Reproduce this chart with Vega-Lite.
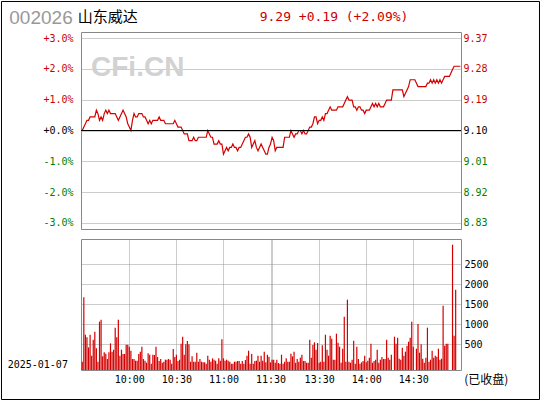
{
  "$schema": "https://vega.github.io/schema/vega-lite/v6.json",
  "padding": 0,
  "background": "white",
  "spacing": 10,
  "bounds": "flush",
  "config": {
    "view": {"stroke": "#888888", "strokeWidth": 1},
    "axis": {"labelFont": "DejaVu Sans Mono", "labelFontSize": 10, "gridColor": "#999999", "gridDash": [1, 1], "gridWidth": 1, "ticks": false, "tickSize": 0, "domain": false}
  },
  "resolve": {"scale": {"x": "independent", "y": "independent"}},
  "datasets": {
    "price": [
      {"t":0,"p":9.10},{"t":1,"p":9.11},{"t":2,"p":9.12},{"t":3,"p":9.13},{"t":4,"p":9.13},{"t":5,"p":9.14},{"t":6,"p":9.14},{"t":7,"p":9.14},{"t":8,"p":9.14},{"t":9,"p":9.16},
      {"t":10,"p":9.15},{"t":11,"p":9.13},{"t":12,"p":9.14},{"t":13,"p":9.13},{"t":14,"p":9.15},{"t":15,"p":9.16},{"t":16,"p":9.15},{"t":17,"p":9.16},{"t":18,"p":9.15},{"t":19,"p":9.15},
      {"t":20,"p":9.15},{"t":21,"p":9.15},{"t":22,"p":9.14},{"t":23,"p":9.13},{"t":24,"p":9.14},{"t":25,"p":9.15},{"t":26,"p":9.16},{"t":27,"p":9.15},{"t":28,"p":9.14},{"t":29,"p":9.12},
      {"t":30,"p":9.11},{"t":31,"p":9.10},{"t":32,"p":9.13},{"t":33,"p":9.15},{"t":34,"p":9.14},{"t":35,"p":9.14},{"t":36,"p":9.15},{"t":37,"p":9.15},{"t":38,"p":9.15},{"t":39,"p":9.14},
      {"t":40,"p":9.14},{"t":41,"p":9.13},{"t":42,"p":9.12},{"t":43,"p":9.13},{"t":44,"p":9.12},{"t":45,"p":9.13},{"t":46,"p":9.13},{"t":47,"p":9.13},{"t":48,"p":9.13},{"t":49,"p":9.14},
      {"t":50,"p":9.13},{"t":51,"p":9.13},{"t":52,"p":9.13},{"t":53,"p":9.12},{"t":54,"p":9.12},{"t":55,"p":9.12},{"t":56,"p":9.12},{"t":57,"p":9.12},{"t":58,"p":9.12},{"t":59,"p":9.13},
      {"t":60,"p":9.12},{"t":61,"p":9.11},{"t":62,"p":9.11},{"t":63,"p":9.11},{"t":64,"p":9.10},{"t":65,"p":9.09},{"t":66,"p":9.09},{"t":67,"p":9.09},{"t":68,"p":9.07},{"t":69,"p":9.07},
      {"t":70,"p":9.07},{"t":71,"p":9.08},{"t":72,"p":9.07},{"t":73,"p":9.07},{"t":74,"p":9.08},{"t":75,"p":9.08},{"t":76,"p":9.08},{"t":77,"p":9.08},{"t":78,"p":9.08},{"t":79,"p":9.08},
      {"t":80,"p":9.10},{"t":81,"p":9.09},{"t":82,"p":9.08},{"t":83,"p":9.08},{"t":84,"p":9.06},{"t":85,"p":9.06},{"t":86,"p":9.06},{"t":87,"p":9.07},{"t":88,"p":9.06},{"t":89,"p":9.06},
      {"t":90,"p":9.03},{"t":91,"p":9.04},{"t":92,"p":9.05},{"t":93,"p":9.04},{"t":94,"p":9.05},{"t":95,"p":9.05},{"t":96,"p":9.06},{"t":97,"p":9.05},{"t":98,"p":9.05},{"t":99,"p":9.04},
      {"t":100,"p":9.05},{"t":101,"p":9.05},{"t":102,"p":9.06},{"t":103,"p":9.07},{"t":104,"p":9.08},{"t":105,"p":9.08},{"t":106,"p":9.09},{"t":107,"p":9.08},{"t":108,"p":9.05},{"t":109,"p":9.06},
      {"t":110,"p":9.07},{"t":111,"p":9.05},{"t":112,"p":9.04},{"t":113,"p":9.05},{"t":114,"p":9.06},{"t":115,"p":9.05},{"t":116,"p":9.04},{"t":117,"p":9.03},{"t":118,"p":9.03},{"t":119,"p":9.05},
      {"t":120,"p":9.06},{"t":121,"p":9.08},{"t":122,"p":9.07},{"t":123,"p":9.04},{"t":124,"p":9.05},{"t":125,"p":9.05},{"t":126,"p":9.05},{"t":127,"p":9.05},{"t":128,"p":9.05},{"t":129,"p":9.08},
      {"t":130,"p":9.08},{"t":131,"p":9.08},{"t":132,"p":9.08},{"t":133,"p":9.10},{"t":134,"p":9.09},{"t":135,"p":9.08},{"t":136,"p":9.09},{"t":137,"p":9.09},{"t":138,"p":9.10},{"t":139,"p":9.10},
      {"t":140,"p":9.09},{"t":141,"p":9.10},{"t":142,"p":9.09},{"t":143,"p":9.09},{"t":144,"p":9.10},{"t":145,"p":9.11},{"t":146,"p":9.11},{"t":147,"p":9.12},{"t":148,"p":9.14},{"t":149,"p":9.14},
      {"t":150,"p":9.12},{"t":151,"p":9.13},{"t":152,"p":9.13},{"t":153,"p":9.14},{"t":154,"p":9.13},{"t":155,"p":9.15},{"t":156,"p":9.15},{"t":157,"p":9.16},{"t":158,"p":9.17},{"t":159,"p":9.16},
      {"t":160,"p":9.16},{"t":161,"p":9.16},{"t":162,"p":9.16},{"t":163,"p":9.17},{"t":164,"p":9.17},{"t":165,"p":9.17},{"t":166,"p":9.17},{"t":167,"p":9.18},{"t":168,"p":9.19},{"t":169,"p":9.20},
      {"t":170,"p":9.19},{"t":171,"p":9.19},{"t":172,"p":9.19},{"t":173,"p":9.17},{"t":174,"p":9.17},{"t":175,"p":9.16},{"t":176,"p":9.17},{"t":177,"p":9.17},{"t":178,"p":9.16},{"t":179,"p":9.16},
      {"t":180,"p":9.15},{"t":181,"p":9.16},{"t":182,"p":9.16},{"t":183,"p":9.16},{"t":184,"p":9.17},{"t":185,"p":9.18},{"t":186,"p":9.17},{"t":187,"p":9.18},{"t":188,"p":9.17},{"t":189,"p":9.18},
      {"t":190,"p":9.17},{"t":191,"p":9.17},{"t":192,"p":9.17},{"t":193,"p":9.18},{"t":194,"p":9.19},{"t":195,"p":9.19},{"t":196,"p":9.19},{"t":197,"p":9.19},{"t":198,"p":9.22},{"t":199,"p":9.22},
      {"t":200,"p":9.22},{"t":201,"p":9.22},{"t":202,"p":9.22},{"t":203,"p":9.22},{"t":204,"p":9.22},{"t":205,"p":9.20},{"t":206,"p":9.21},{"t":207,"p":9.22},{"t":208,"p":9.23},{"t":209,"p":9.25},
      {"t":210,"p":9.25},{"t":211,"p":9.25},{"t":212,"p":9.25},{"t":213,"p":9.24},{"t":214,"p":9.23},{"t":215,"p":9.23},{"t":216,"p":9.23},{"t":217,"p":9.23},{"t":218,"p":9.23},{"t":219,"p":9.23},
      {"t":220,"p":9.24},{"t":221,"p":9.24},{"t":222,"p":9.25},{"t":223,"p":9.24},{"t":224,"p":9.25},{"t":225,"p":9.24},{"t":226,"p":9.25},{"t":227,"p":9.24},{"t":228,"p":9.25},{"t":229,"p":9.24},
      {"t":230,"p":9.25},{"t":231,"p":9.26},{"t":232,"p":9.26},{"t":233,"p":9.26},{"t":234,"p":9.26},{"t":235,"p":9.27},{"t":236,"p":9.28},{"t":237,"p":9.29},{"t":238,"p":9.29},{"t":239,"p":9.29},
      {"t":240,"p":9.29},{"t":241,"p":9.29}
    ],
    "vol": [
      {"t":0,"v":58},{"t":1,"v":1666},{"t":2,"v":732},{"t":3,"v":666},{"t":4,"v":416},{"t":5,"v":732},{"t":6,"v":208},{"t":7,"v":607},{"t":8,"v":808},{"t":9,"v":391},
      {"t":10,"v":58},{"t":11,"v":1058},{"t":12,"v":1108},{"t":13,"v":191},{"t":14,"v":291},{"t":15,"v":258},{"t":16,"v":124},{"t":17,"v":291},{"t":18,"v":516},{"t":19,"v":308},
      {"t":20,"v":358},{"t":21,"v":908},{"t":22,"v":666},{"t":23,"v":1108},{"t":24,"v":208},{"t":25,"v":358},{"t":26,"v":249},{"t":27,"v":249},{"t":28,"v":483},{"t":29,"v":483},
      {"t":30,"v":433},{"t":31,"v":333},{"t":32,"v":124},{"t":33,"v":124},{"t":34,"v":83},{"t":35,"v":83},{"t":36,"v":249},{"t":37,"v":308},{"t":38,"v":433},{"t":39,"v":124},
      {"t":40,"v":83},{"t":41,"v":33},{"t":42,"v":266},{"t":43,"v":233},{"t":44,"v":8},{"t":45,"v":233},{"t":46,"v":224},{"t":47,"v":433},{"t":48,"v":174},{"t":49,"v":74},
      {"t":50,"v":124},{"t":51,"v":33},{"t":52,"v":58},{"t":53,"v":108},{"t":54,"v":108},{"t":55,"v":124},{"t":56,"v":108},{"t":57,"v":5},{"t":58,"v":374},{"t":59,"v":174},
      {"t":60,"v":233},{"t":61,"v":74},{"t":62,"v":108},{"t":63,"v":508},{"t":64,"v":683},{"t":65,"v":233},{"t":66,"v":491},{"t":67,"v":574},{"t":68,"v":491},{"t":69,"v":58},
      {"t":70,"v":191},{"t":71,"v":58},{"t":72,"v":58},{"t":73,"v":283},{"t":74,"v":58},{"t":75,"v":124},{"t":76,"v":58},{"t":77,"v":41},{"t":78,"v":41},{"t":79,"v":8},
      {"t":80,"v":208},{"t":81,"v":108},{"t":82,"v":58},{"t":83,"v":141},{"t":84,"v":108},{"t":85,"v":83},{"t":86,"v":8},{"t":87,"v":141},{"t":88,"v":83},{"t":89,"v":616},
      {"t":90,"v":141},{"t":91,"v":83},{"t":92,"v":108},{"t":93,"v":83},{"t":94,"v":58},{"t":95,"v":8},{"t":96,"v":8},{"t":97,"v":58},{"t":98,"v":58},{"t":99,"v":74},
      {"t":100,"v":74},{"t":101,"v":8},{"t":102,"v":74},{"t":103,"v":8},{"t":104,"v":99},{"t":105,"v":208},{"t":106,"v":333},{"t":107,"v":8},{"t":108,"v":249},{"t":109,"v":8},
      {"t":110,"v":74},{"t":111,"v":83},{"t":112,"v":208},{"t":113,"v":58},{"t":114,"v":208},{"t":115,"v":83},{"t":116,"v":308},{"t":117,"v":41},{"t":118,"v":233},{"t":119,"v":183},
      {"t":120,"v":41},{"t":121,"v":108},{"t":122,"v":108},{"t":123,"v":33},{"t":124,"v":108},{"t":125,"v":24},{"t":126,"v":8},{"t":127,"v":233},{"t":128,"v":8},{"t":129,"v":58},
      {"t":130,"v":141},{"t":131,"v":58},{"t":132,"v":58},{"t":133,"v":258},{"t":134,"v":191},{"t":135,"v":308},{"t":136,"v":33},{"t":137,"v":124},{"t":138,"v":58},{"t":139,"v":158},
      {"t":140,"v":233},{"t":141,"v":74},{"t":142,"v":74},{"t":143,"v":33},{"t":144,"v":33},{"t":145,"v":607},{"t":146,"v":158},{"t":147,"v":474},{"t":148,"v":541},{"t":149,"v":358},
      {"t":150,"v":524},{"t":151,"v":33},{"t":152,"v":58},{"t":153,"v":466},{"t":154,"v":58},{"t":155,"v":732},{"t":156,"v":358},{"t":157,"v":208},{"t":158,"v":708},{"t":159,"v":633},
      {"t":160,"v":108},{"t":161,"v":108},{"t":162,"v":758},{"t":163,"v":533},{"t":164,"v":433},{"t":165,"v":33},{"t":166,"v":383},{"t":167,"v":1183},{"t":168,"v":58},{"t":169,"v":1608},
      {"t":170,"v":58},{"t":171,"v":33},{"t":172,"v":108},{"t":173,"v":582},{"t":174,"v":8},{"t":175,"v":433},{"t":176,"v":124},{"t":177,"v":8},{"t":178,"v":41},{"t":179,"v":74},
      {"t":180,"v":208},{"t":181,"v":41},{"t":182,"v":83},{"t":183,"v":158},{"t":184,"v":508},{"t":185,"v":33},{"t":186,"v":74},{"t":187,"v":108},{"t":188,"v":358},{"t":189,"v":33},
      {"t":190,"v":108},{"t":191,"v":174},{"t":192,"v":124},{"t":193,"v":124},{"t":194,"v":607},{"t":195,"v":158},{"t":196,"v":108},{"t":197,"v":233},{"t":199,"v":683},
      {"t":200,"v":508},{"t":201,"v":658},{"t":202,"v":133},{"t":203,"v":108},{"t":204,"v":408},{"t":205,"v":208},{"t":206,"v":308},{"t":207,"v":458},{"t":208,"v":558},{"t":209,"v":658},
      {"t":210,"v":1058},{"t":211,"v":433},{"t":213,"v":383},{"t":214,"v":999},{"t":215,"v":283},{"t":216,"v":491},{"t":217,"v":133},{"t":218,"v":33},{"t":219,"v":158},
      {"t":220,"v":908},{"t":221,"v":58},{"t":222,"v":108},{"t":223,"v":333},{"t":224,"v":158},{"t":225,"v":208},{"t":226,"v":183},{"t":227,"v":383},{"t":228,"v":108},{"t":229,"v":133},
      {"t":230,"v":1458},{"t":231,"v":458},{"t":232,"v":508},{"t":233,"v":508},{"t":236,"v":2982},{"t":237,"v":708},{"t":238,"v":1858}
    ]
  },
  "vconcat": [
    {
      "width": 380,
      "height": 197,
      "layer": [
        {
          "data": {"values": [{}]},
          "mark": {"type": "rect", "fill": null, "stroke": "#000000", "strokeWidth": 1},
          "encoding": {
            "x": {"datum": -51.471, "type": "quantitative", "scale": {"domain": [-0.8, 241.4], "nice": false, "zero": false}, "axis": null},
            "x2": {"datum": 291.43},
            "y": {"datum": 9.48137, "type": "quantitative", "scale": {"domain": [8.8088, 9.3912], "nice": false, "zero": false}, "axis": null},
            "y2": {"datum": 8.30473}
          }
        },
        {
          "data": {"values": [{"label": "CFi.CN"}]},
          "mark": {"type": "text", "align": "left", "baseline": "alphabetic", "font": "Liberation Sans", "fontSize": 28, "fontWeight": "bold", "color": "#d2d2d2"},
          "encoding": {
            "text": {"field": "label"},
            "x": {"datum": 5.6, "type": "quantitative", "scale": {"domain": [-0.8, 241.4], "nice": false, "zero": false}, "axis": null},
            "y": {"datum": 9.2611, "type": "quantitative", "scale": {"domain": [8.8088, 9.3912], "nice": false, "zero": false}, "axis": null}
          }
        },
        {
          "data": {"values": [{"label": "002026"}]},
          "mark": {"type": "text", "align": "left", "baseline": "alphabetic", "font": "Liberation Sans", "fontSize": 19, "color": "#999999"},
          "encoding": {
            "text": {"field": "label"},
            "x": {"datum": -46.5, "type": "quantitative", "scale": {"domain": [-0.8, 241.4], "nice": false, "zero": false}, "axis": null},
            "y": {"datum": 9.414, "type": "quantitative", "scale": {"domain": [8.8088, 9.3912], "nice": false, "zero": false}, "axis": null}
          }
        },
        {
          "data": {"values": [{"label": "山东威达"}]},
          "mark": {"type": "text", "align": "left", "baseline": "alphabetic", "font": "Noto Sans CJK SC", "fontSize": 15, "color": "#000000"},
          "encoding": {
            "text": {"field": "label"},
            "x": {"datum": -2.9, "type": "quantitative", "scale": {"domain": [-0.8, 241.4], "nice": false, "zero": false}, "axis": null},
            "y": {"datum": 9.4222, "type": "quantitative", "scale": {"domain": [8.8088, 9.3912], "nice": false, "zero": false}, "axis": null}
          }
        },
        {
          "data": {"values": [{"label": "9.29 +0.19 (+2.09%)"}]},
          "mark": {"type": "text", "align": "left", "baseline": "alphabetic", "font": "DejaVu Sans Mono", "fontSize": 13, "color": "#cc0000"},
          "encoding": {
            "text": {"field": "label"},
            "x": {"datum": 113.1, "type": "quantitative", "scale": {"domain": [-0.8, 241.4], "nice": false, "zero": false}, "axis": null},
            "y": {"datum": 9.4237, "type": "quantitative", "scale": {"domain": [8.8088, 9.3912], "nice": false, "zero": false}, "axis": null}
          }
        },
        {
          "data": {"values": [{"label": "2025-01-07"}]},
          "mark": {"type": "text", "align": "left", "baseline": "alphabetic", "font": "DejaVu Sans Mono", "fontSize": 10, "color": "#000000"},
          "encoding": {
            "text": {"field": "label"},
            "x": {"datum": -47.52, "type": "quantitative", "scale": {"domain": [-0.8, 241.4], "nice": false, "zero": false}, "axis": null},
            "y": {"datum": 8.3993, "type": "quantitative", "scale": {"domain": [8.8088, 9.3912], "nice": false, "zero": false}, "axis": null}
          }
        },
        {
          "data": {"values": [{"label": "(已收盘)"}]},
          "mark": {"type": "text", "align": "left", "baseline": "alphabetic", "font": "Noto Sans CJK SC", "fontSize": 12, "color": "#000000"},
          "encoding": {
            "text": {"field": "label"},
            "x": {"datum": 243.5, "type": "quantitative", "scale": {"domain": [-0.8, 241.4], "nice": false, "zero": false}, "axis": null},
            "y": {"datum": 8.3506, "type": "quantitative", "scale": {"domain": [8.8088, 9.3912], "nice": false, "zero": false}, "axis": null}
          }
        },
        {
          "data": {"name": "price"},
          "mark": {"type": "line", "color": "#d40000", "strokeWidth": 1.2},
          "encoding": {
            "x": {"field": "t", "type": "quantitative", "scale": {"domain": [-0.8, 241.4], "nice": false, "zero": false},
                  "axis": {"title": null, "values": [30, 60, 90, 120, 121, 151, 181, 211], "labels": false, "grid": true}},
            "y": {"field": "p", "type": "quantitative", "scale": {"domain": [8.8088, 9.3912], "nice": false, "zero": false},
                  "axis": {"title": null, "orient": "left", "values": [8.827, 8.918, 9.009, 9.1, 9.191, 9.282, 9.373], "grid": true, "labelPadding": 8,
                           "labelExpr": "(datum.value >= 9.0999 ? '+' : '-') + format(abs(datum.value / 9.1 - 1) * 100, '.1f') + '%'",
                           "labelColor": {"condition": [{"test": "datum.value > 9.1001", "value": "#cc0000"}, {"test": "datum.value < 9.0999", "value": "#008000"}], "value": "#000000"}}}
          }
        },
        {
          "data": {"values": [{}]},
          "mark": {"type": "rule", "color": "#000000", "strokeWidth": 1},
          "encoding": {
            "y": {"datum": 9.1, "type": "quantitative", "scale": {"domain": [8.8088, 9.3912], "nice": false, "zero": false},
                  "axis": {"title": null, "orient": "right", "values": [8.827, 8.918, 9.009, 9.1, 9.191, 9.282, 9.373], "grid": false, "labelPadding": 2, "format": ".2f",
                           "labelColor": {"condition": [{"test": "datum.value > 9.1001", "value": "#cc0000"}, {"test": "datum.value < 9.0999", "value": "#008000"}], "value": "#000000"}}}
          }
        }
      ],
      "resolve": {"axis": {"y": "independent"}}
    },
    {
      "width": 380,
      "height": 131,
      "data": {"name": "vol"},
      "mark": {"type": "bar", "color": "#d40000", "size": 1.2},
      "encoding": {
        "x": {"field": "t", "type": "quantitative", "scale": {"domain": [-0.8, 241.4], "nice": false, "zero": false, "padding": 0},
              "axis": {"title": null, "values": [30, 60, 90, 120, 121, 151, 181, 211], "grid": true, "labelPadding": 4, "labelOverlap": false, "labelFlush": false, "labelColor": "#000000",
                       "labelExpr": "datum.value == 30 ? '10:00' : datum.value == 60 ? '10:30' : datum.value == 90 ? '11:00' : datum.value == 120 ? '11:30' : datum.value == 151 ? '13:30' : datum.value == 181 ? '14:00' : datum.value == 211 ? '14:30' : ''"}},
        "y": {"field": "v", "type": "quantitative", "scale": {"domain": [-150, 3125], "nice": false, "zero": false},
              "axis": {"title": null, "orient": "right", "values": [500, 1000, 1500, 2000, 2500], "format": "d", "grid": true, "labelPadding": 3, "labelColor": "#000000"}},
        "y2": {"datum": -150}
      }
    }
  ]
}
